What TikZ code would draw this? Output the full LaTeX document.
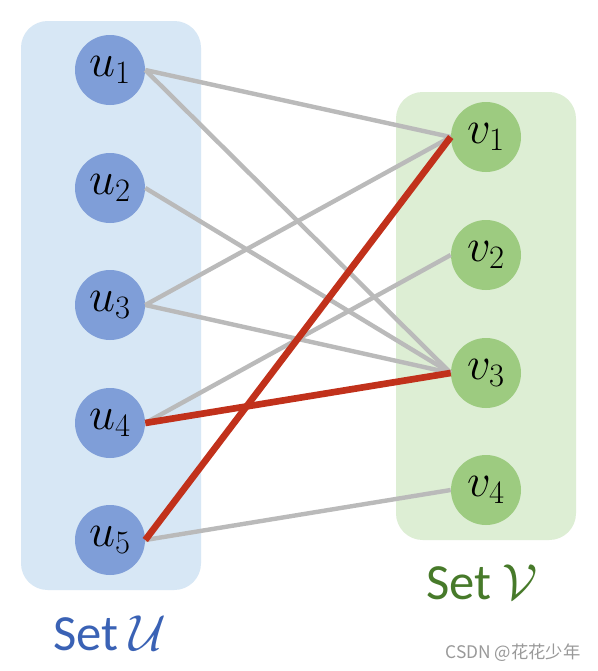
\RequirePackage{fix-cm}
\documentclass[tikz,border=0pt]{standalone}
\usepackage{fontspec}
\setsansfont{Carlito}
\newfontfamily\cjkfont{Noto Sans CJK SC}
\begin{document}
\begin{tikzpicture}[x=0.75pt,y=-0.75pt]
\definecolor{boxU}{HTML}{D7E7F5}
\definecolor{nodeU}{HTML}{7F9ED8}
\definecolor{boxV}{HTML}{DDEED4}
\definecolor{nodeV}{HTML}{9DCB80}
\definecolor{edgegray}{HTML}{BABABA}
\definecolor{edgered}{HTML}{C1311B}
\definecolor{labU}{HTML}{3A62B5}
\definecolor{labV}{HTML}{477A2A}
\tikzset{
  setbox/.style={rounded corners=20pt},
  unode/.style={circle,fill=nodeU,minimum size=52.5pt,inner sep=0pt,font=\fontsize{35}{40}\selectfont},
  vnode/.style={circle,fill=nodeV,minimum size=52.5pt,inner sep=0pt,font=\fontsize{35}{40}\selectfont},
  plain/.style={draw=edgegray,line width=3.3pt},
  match/.style={draw=edgered,line width=5pt},
  setlabel/.style={font=\sffamily\fontsize{38}{42}\selectfont,inner sep=0pt}
}
\useasboundingbox[fill=white] (0,0) rectangle (597,671);
\fill[boxU,setbox] (21,21) rectangle (201,590);
\fill[boxV,setbox] (396,92) rectangle (576,540);
\node[unode] (u1) at (110,70) {$u_1$};
\node[unode] (u2) at (110,188) {$u_2$};
\node[unode] (u3) at (110,305) {$u_3$};
\node[unode] (u4) at (110,423) {$u_4$};
\node[unode] (u5) at (110,540) {$u_5$};
\node[vnode] (v1) at (486,137) {$v_1$};
\node[vnode] (v2) at (486,255) {$v_2$};
\node[vnode] (v3) at (486,373) {$v_3$};
\node[vnode] (v4) at (486,490) {$v_4$};
\draw[plain] (u1.east) -- (v1.west);
\draw[plain] (u1.east) -- (v3.west);
\draw[plain] (u2.east) -- (v3.west);
\draw[plain] (u3.east) -- (v1.west);
\draw[plain] (u3.east) -- (v3.west);
\draw[plain] (u4.east) -- (v2.west);
\draw[plain] (u5.east) -- (v4.west);
\draw[match] (u4.east) -- (v3.west);
\draw[match] (u5.east) -- (v1.west);
\node[setlabel,text=labU] (setU) at (110,633) {Set $\mathcal{U}$};
\node[setlabel,text=labV] (setV) at (482,582) {Set $\mathcal{V}$};
\node[font=\cjkfont\fontsize{13}{15}\selectfont,text=gray!80,inner sep=0pt] (wm) at (513,653) {CSDN @花花少年};
\end{tikzpicture}
\end{document}
